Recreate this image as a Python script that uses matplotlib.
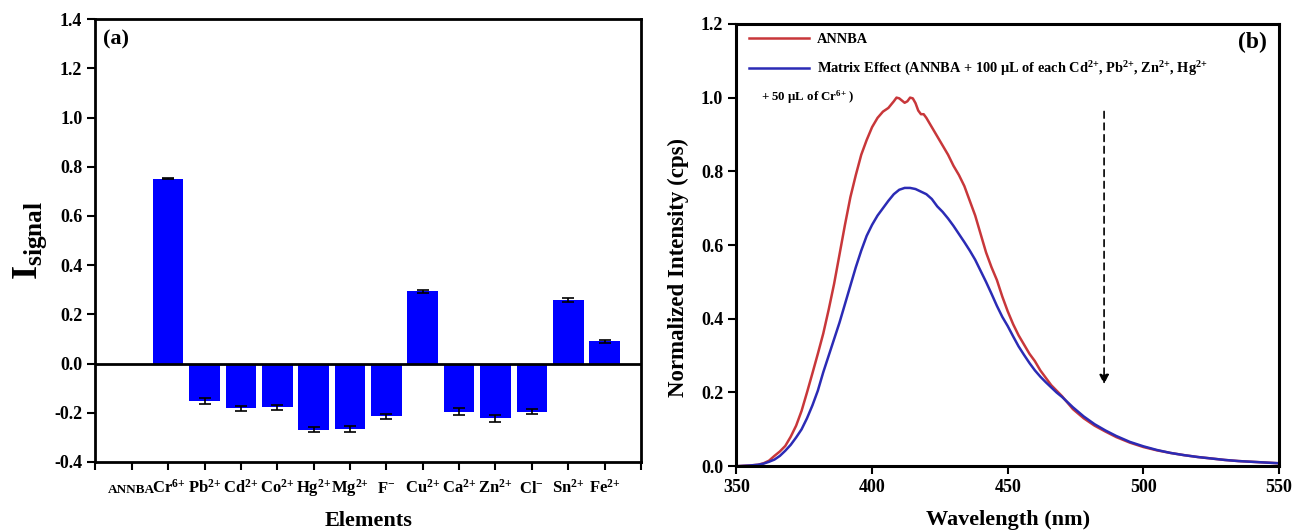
import numpy as np
import matplotlib
matplotlib.use("Agg")
import matplotlib.pyplot as plt

plt.rcParams['font.family'] = ['Liberation Serif', 'DejaVu Serif']
plt.rcParams['font.weight'] = 'bold'
plt.rcParams['mathtext.fontset'] = 'custom'
plt.rcParams['mathtext.rm'] = 'Liberation Serif:bold'
plt.rcParams['mathtext.bf'] = 'Liberation Serif:bold'
plt.rcParams['mathtext.it'] = 'Liberation Serif:bold'

# ---------------- Panel (a) data ----------------
categories = ['ANNBA', r'Cr$^{6{+}}$', r'Pb$^{2{+}}$', r'Cd$^{2{+}}$', r'Co$^{2{+}}$',
              r'Hg$^{2{+}}$', r'Mg$^{2{+}}$', r'F$^{-}$', r'Cu$^{2{+}}$', r'Ca$^{2{+}}$',
              r'Zn$^{2{+}}$', r'Cl$^{-}$', r'Sn$^{2{+}}$', r'Fe$^{2{+}}$']
signal = [0.0, 0.752, -0.153, -0.182, -0.178, -0.269, -0.265, -0.215, 0.293, -0.195,
          -0.223, -0.196, 0.258, 0.090]
signal_err = [0.0, 0.003, 0.012, 0.010, 0.010, 0.010, 0.012, 0.012, 0.006, 0.015,
              0.015, 0.010, 0.008, 0.006]

# ---------------- Panel (b) data ----------------
wl_red = [350, 355, 358, 360, 362, 364, 366, 368, 370, 372, 374, 376, 378, 380, 382, 384,
          386, 388, 390, 392, 394, 396, 398, 400, 402, 404, 406, 408, 409, 410, 411, 412,
          413, 414, 415, 416, 417, 418, 419, 420, 422, 424, 426, 428, 430, 432, 434, 436,
          438, 440, 442, 444, 446, 448, 450, 452, 454, 456, 458, 460, 462, 464, 466, 468,
          470, 474, 478, 482, 486, 490, 495, 500, 505, 510, 515, 520, 525, 530, 535, 540,
          545, 550]
int_red = [0.000, 0.002, 0.004, 0.008, 0.015, 0.028, 0.040, 0.055, 0.080, 0.110, 0.150,
           0.200, 0.252, 0.305, 0.360, 0.425, 0.495, 0.575, 0.655, 0.730, 0.790, 0.845,
           0.885, 0.920, 0.945, 0.962, 0.972, 0.990, 1.000, 0.998, 0.992, 0.986, 0.990,
           1.000, 0.998, 0.985, 0.965, 0.955, 0.955, 0.945, 0.920, 0.895, 0.870, 0.845,
           0.815, 0.790, 0.760, 0.720, 0.680, 0.630, 0.580, 0.540, 0.505, 0.460, 0.420,
           0.385, 0.355, 0.330, 0.305, 0.285, 0.260, 0.240, 0.220, 0.205, 0.190, 0.155,
           0.130, 0.110, 0.094, 0.079, 0.064, 0.052, 0.043, 0.036, 0.030, 0.025, 0.021,
           0.017, 0.014, 0.012, 0.010, 0.008]

wl_blue = [350, 355, 358, 360, 362, 364, 366, 368, 370, 372, 374, 376, 378, 380, 382, 384,
           386, 388, 390, 392, 394, 396, 398, 400, 402, 404, 406, 408, 410, 412, 414, 416,
           418, 420, 422, 424, 426, 428, 430, 432, 434, 436, 438, 440, 442, 444, 446, 448,
           450, 452, 454, 456, 458, 460, 462, 464, 466, 468, 470, 474, 478, 482, 486, 490,
           495, 500, 505, 510, 515, 520, 525, 530, 535, 540, 545, 550]
int_blue = [0.000, 0.002, 0.004, 0.007, 0.012, 0.018, 0.028, 0.042, 0.058, 0.078, 0.100,
            0.130, 0.165, 0.205, 0.255, 0.300, 0.345, 0.390, 0.440, 0.490, 0.540, 0.585,
            0.625, 0.655, 0.680, 0.700, 0.720, 0.738, 0.750, 0.755, 0.755, 0.752, 0.745,
            0.738, 0.725, 0.705, 0.690, 0.672, 0.652, 0.630, 0.608, 0.585, 0.560, 0.530,
            0.500, 0.468, 0.435, 0.405, 0.380, 0.352, 0.325, 0.302, 0.280, 0.260, 0.243,
            0.228, 0.214, 0.200, 0.188, 0.160, 0.135, 0.114, 0.097, 0.082, 0.066, 0.054,
            0.044, 0.036, 0.030, 0.025, 0.021, 0.017, 0.014, 0.012, 0.010, 0.008]

arrow_x = 485.5
arrow_top = 0.97
arrow_tip = 0.215

fig = plt.figure(figsize=(12.92, 5.31), dpi=100)

# ---------------- Panel (a) ----------------
axa = fig.add_axes([0.0739, 0.130, 0.4222, 0.834])
pos = np.arange(1, len(categories) + 1)
axa.bar(pos, signal, width=0.84, color='#0000FF', edgecolor='none', zorder=2)
axa.errorbar(pos[1:], signal[1:], yerr=signal_err[1:], fmt='none', ecolor='black',
             elinewidth=1.2, capsize=4, capthick=1.2, zorder=3)
axa.axhline(0, color='black', lw=2, zorder=4)
axa.set_xlim(0, 15)
axa.set_ylim(-0.4, 1.4)
axa.set_yticks(np.arange(-0.4, 1.41, 0.2))
axa.set_yticklabels(['%.1f' % v for v in np.arange(-0.4, 1.41, 0.2)], fontsize=13)
axa.set_xticks(np.arange(0, 16))
axa.set_xticklabels([''] + categories + [''], fontsize=12)
axa.get_xticklabels()[1].set_fontsize(9.5)
for lab in axa.get_xticklabels():
    lab.set_verticalalignment('baseline')
axa.tick_params(axis='both', direction='out', length=6, width=1.5)
axa.tick_params(axis='x', pad=16)
for s in axa.spines.values():
    s.set_linewidth(2)
axa.set_xlabel('Elements', fontsize=16, fontweight='bold', labelpad=9)
axa.set_ylabel(r'$\mathbf{I}_{\mathbf{signal}}$', fontsize=26, labelpad=4)
axa.text(0.013, 0.955, '(a)', transform=axa.transAxes, fontsize=16, fontweight='bold',
         va='center', ha='left')

# ---------------- Panel (b) ----------------
axb = fig.add_axes([0.570, 0.122, 0.420, 0.833])
l1, = axb.plot(wl_red, int_red, color='#C8373A', lw=1.8)
l2, = axb.plot(wl_blue, int_blue, color='#2B2BB5', lw=1.8)
axb.set_xlim(350, 550)
axb.set_ylim(0, 1.2)
axb.set_xticks([350, 400, 450, 500, 550])
axb.set_yticks(np.arange(0, 1.21, 0.2))
axb.set_yticklabels(['%.1f' % v for v in np.arange(0, 1.21, 0.2)], fontsize=13)
axb.set_xticklabels(['350', '400', '450', '500', '550'], fontsize=13)
axb.tick_params(axis='both', direction='out', length=6, width=1.5)
for s in axb.spines.values():
    s.set_linewidth(2.2)
axb.set_xlabel('Wavelength (nm)', fontsize=16, fontweight='bold', labelpad=10)
axb.set_ylabel('Normalized Intensity (cps)', fontsize=16.5, fontweight='bold')
axb.yaxis.set_label_coords(-0.088, 0.45)

axb.annotate('', xy=(arrow_x, arrow_tip), xytext=(arrow_x, arrow_top),
             arrowprops=dict(arrowstyle='-|>', linestyle=(0, (4, 3)), color='black',
                             lw=1.2, mutation_scale=14))

leg = axb.legend([l1, l2],
                 ['ANNBA',
                  r'Matrix Effect (ANNBA + 100 $\mu$L of each Cd$^{2{+}}$, Pb$^{2{+}}$, '
                  r'Zn$^{2{+}}$, Hg$^{2{+}}$'],
                 loc='upper left', bbox_to_anchor=(0.0, 1.01), frameon=False,
                 handlelength=4.1, handletextpad=0.6, labelspacing=1.0,
                 prop={'family': 'Liberation Serif', 'weight': 'bold', 'size': 10.4})
axb.text(0.046, 1.0, r'+ 50 $\mu$L of Cr$^{6{+}}$ )', transform=axb.get_yaxis_transform(),
         fontsize=9.3, fontweight='bold', va='center', ha='left')
axb.text(0.95, 0.957, '(b)', transform=axb.transAxes, fontsize=17, fontweight='bold',
         va='center', ha='center')

fig.savefig('out.png', dpi=100)
